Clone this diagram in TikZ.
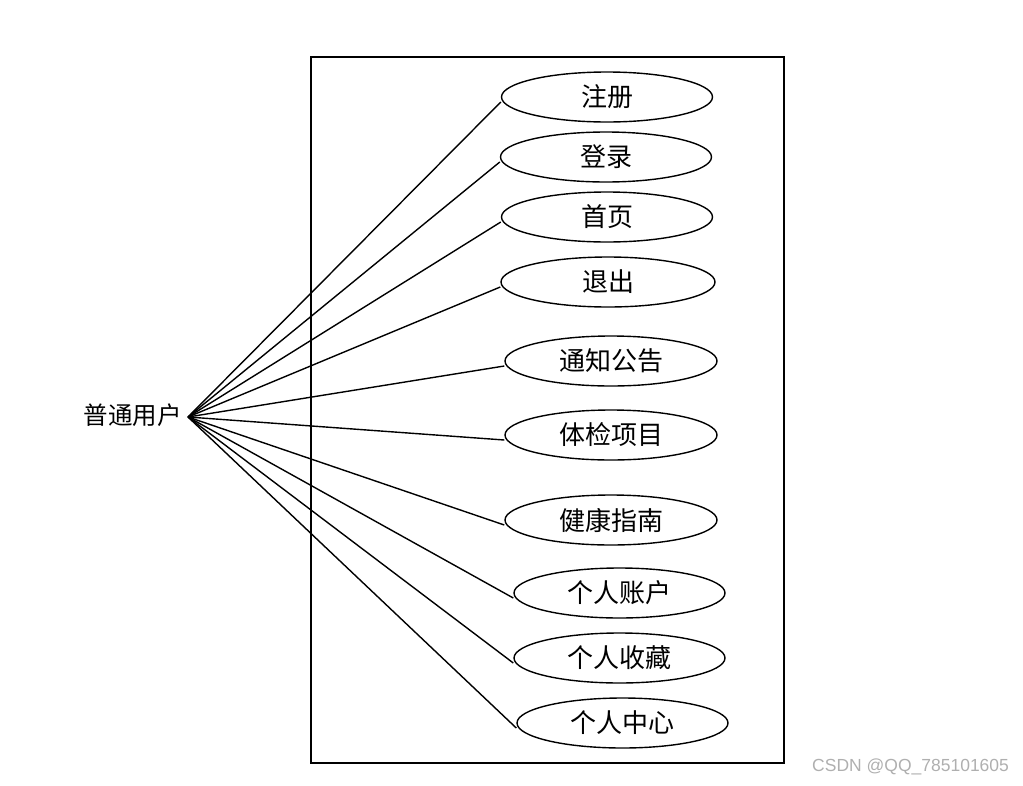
\documentclass[tikz,border=0pt]{standalone}
\usepackage{fontspec}
\setmainfont{Liberation Serif}
\newfontfamily\cjk{Noto Sans CJK SC}
\newfontfamily\wm{Liberation Sans}
\usetikzlibrary{shapes.geometric}
\definecolor{wmgray}{RGB}{175,175,175}
\tikzset{
  uc/.style={draw, ellipse, line width=1.4pt, minimum width=211pt, minimum height=50pt, inner sep=0pt, font=\cjk\fontsize{26}{30}\selectfont},
  link/.style={line width=1.4pt},
}
\begin{document}
\begin{tikzpicture}[x=1pt,y=-1pt]
\useasboundingbox (0,0) rectangle (1023,785);
\node[draw, line width=1.3pt, minimum width=473pt, minimum height=706pt, inner sep=0pt] (sys) at (547.5,410) {};
\node[font=\cjk\fontsize{24.5}{28}\selectfont, anchor=east, inner sep=0pt] (actor) at (182,415) {普通用户};
\coordinate (a) at (188,417);
\node[uc] (u1) at (607,97) {注册};
\node[uc] (u2) at (606,157) {登录};
\node[uc] (u3) at (607,217) {首页};
\node[uc, minimum width=214pt] (u4) at (608,282) {退出};
\node[uc, minimum width=212pt] (u5) at (611,361) {通知公告};
\node[uc, minimum width=212pt] (u6) at (611,435) {体检项目};
\node[uc, minimum width=212pt] (u7) at (611,520) {健康指南};
\node[uc] (u8) at (619.5,593) {个人账户};
\node[uc] (u9) at (619.5,658) {个人收藏};
\node[uc] (u10) at (622.5,723) {个人中心};
\foreach \i in {1,...,10} {
  \draw[link] (a) -- ([yshift=-5pt]u\i.west);
}
\node[font=\wm\fontsize{17.5}{20}\selectfont, text=wmgray, anchor=west, inner sep=0pt] (mark) at (812,767) {CSDN @QQ\_785101605};
\end{tikzpicture}
\end{document}
